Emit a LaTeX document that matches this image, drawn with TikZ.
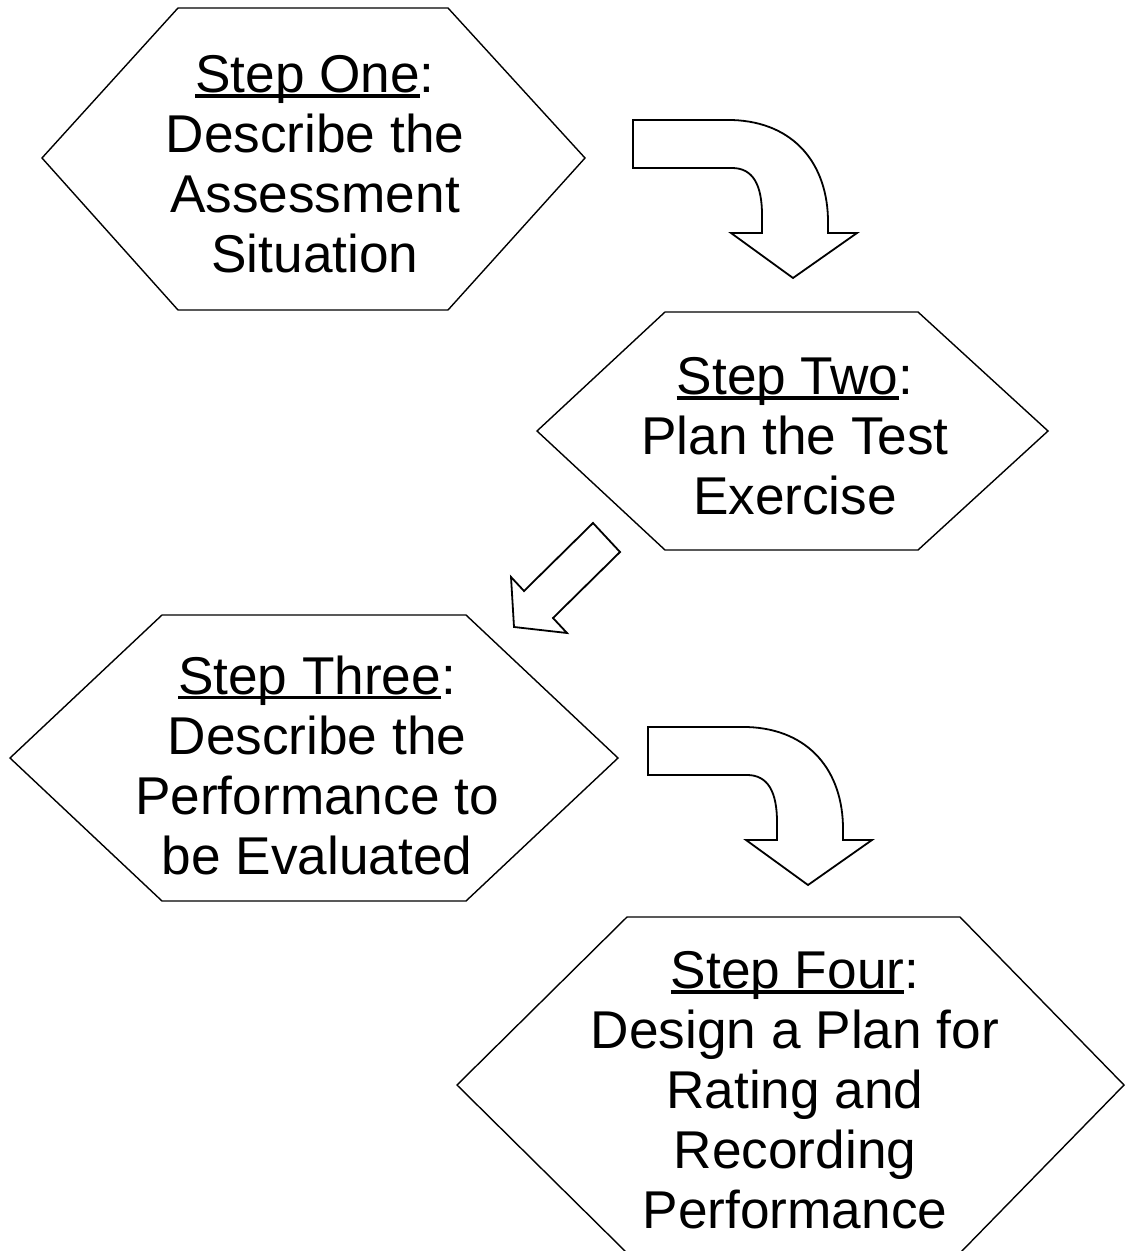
\documentclass[tikz,border=0pt]{standalone}
\usepackage{fontspec}
\setmainfont{Liberation Sans}
\usetikzlibrary{arrows.meta}

\newcommand{\stepul}[1]{\setbox0=\hbox{#1}\rlap{\rule[-0.1em]{\wd0}{0.065em}}\box0}

\begin{document}
\begin{tikzpicture}[x=0.5pt, y=-0.5pt,
    hexline/.style={draw, line width=0.7pt, line join=miter},
    blockarrow/.style={draw, line width=0.9pt, fill=white, line join=miter},
    steptext/.style={align=center, inner sep=0pt, font=\fontsize{26.6}{30}\selectfont},
    bendarrow/.pic={
      \draw[blockarrow] (0,0) -- (99,0) .. controls (162,2) and (195,45) .. (195,102)
        -- (195,113) -- (224,113) -- (160,158) -- (98,113) -- (129,113) -- (129,95)
        .. controls (129,65) and (120,48) .. (99,48) -- (0,48) -- cycle;
    }]
    \useasboundingbox (0,0) rectangle (1125,1251);
    % Hexagons (the four steps)
    \draw[hexline] (42,158) -- (178,8) -- (448,8) -- (585,158) -- (448,310) -- (178,310) -- cycle;
    \draw[hexline] (537,431) -- (665,312) -- (918,312) -- (1048,431) -- (918,550) -- (665,550) -- cycle;
    \draw[hexline] (10,758) -- (162,615) -- (466,615) -- (618,758) -- (466,901) -- (162,901) -- cycle;
    \draw[hexline] (457,1085) -- (627,917) -- (960,917) -- (1124,1085) -- (960,1253) -- (627,1253) -- cycle;
    % Step texts
    \node[steptext] (one) at (315,164) {\stepul{Step One}:\\Describe the\\Assessment\\Situation};
    \node[steptext] (two) at (795,436) {\stepul{Step Two}:\\Plan the Test\\Exercise};
    \node[steptext] (three) at (317,765) {\stepul{Step Three}:\\Describe the\\Performance to\\be Evaluated};
    \node[steptext] (four) at (795,1090) {\stepul{Step Four}:\\Design a Plan for\\Rating and\\Recording\\Performance};
    % Block arrows between the steps
    \pic at (633,120) {bendarrow};
    \draw[blockarrow] (593,523) -- (620,552) -- (553,618) -- (567,633) -- (514,627)
      -- (511,577) -- (524,591) -- cycle;
    \pic at (648,727) {bendarrow};
\end{tikzpicture}
\end{document}
